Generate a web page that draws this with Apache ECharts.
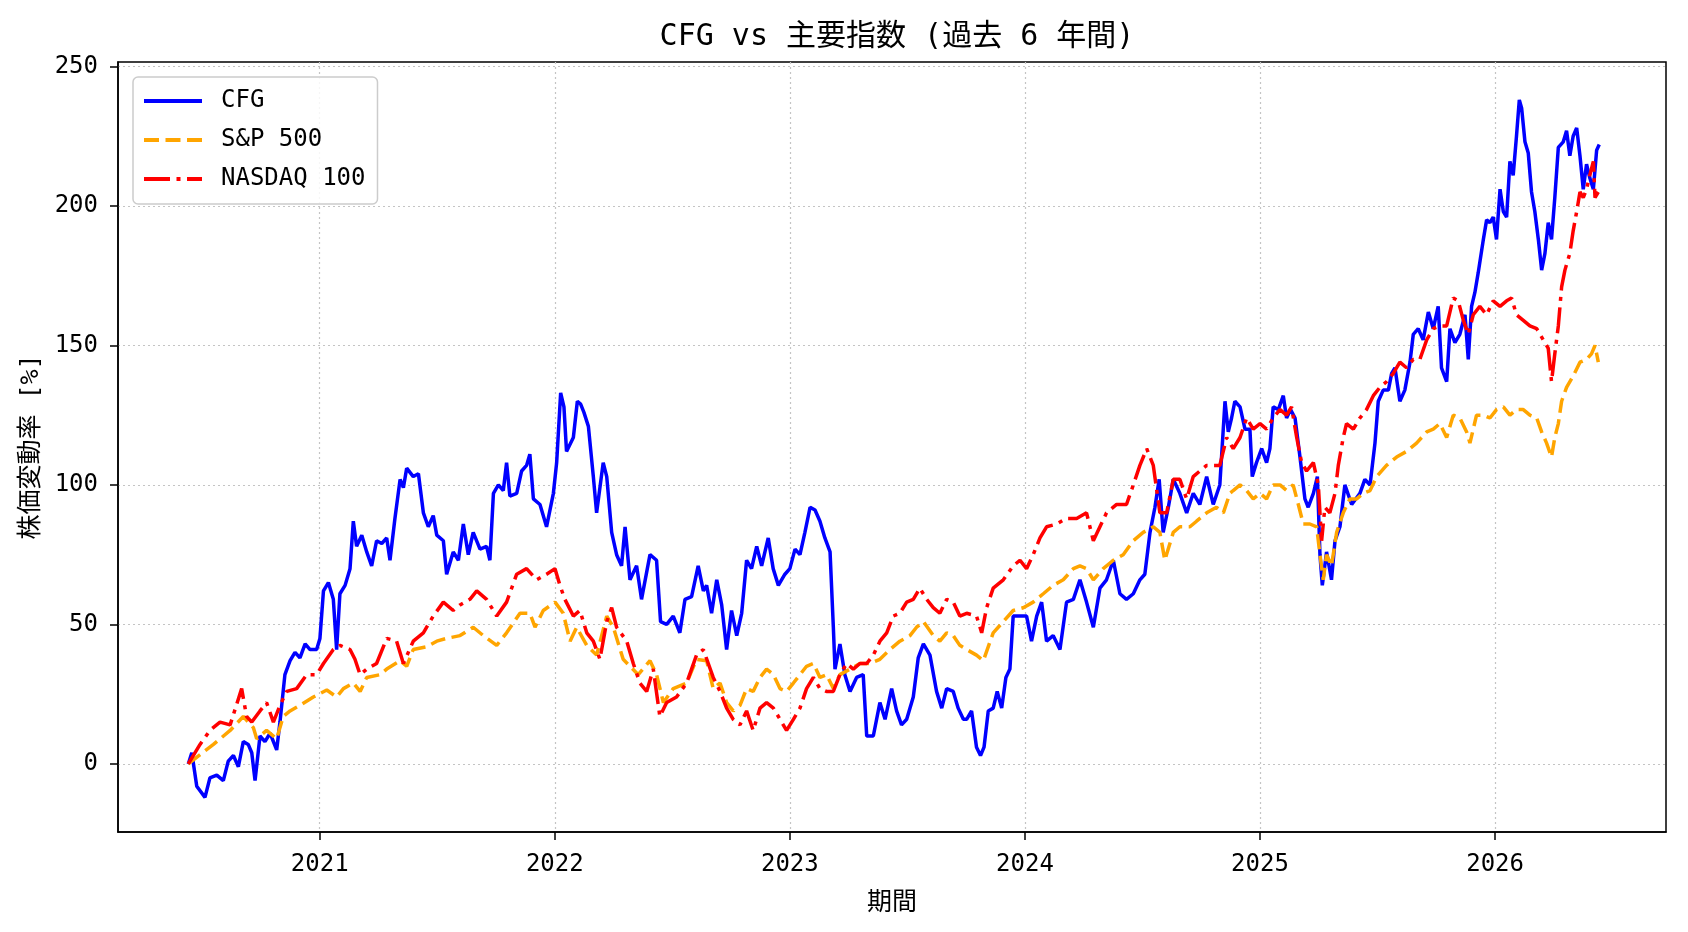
<!DOCTYPE html>
<html>
<head>
<meta charset="utf-8">
<title>CFG vs 主要指数</title>
<script src="https://cdn.jsdelivr.net/npm/echarts@6/dist/echarts.min.js"></script>
<style>
html, body { margin: 0; padding: 0; background: #fff; }
#main { width: 1688px; height: 932px; }
</style>
</head>
<body>
<div id="main"></div>
<script>
// 時点は小数年 (例: 2021.5 = 2021年7月初め) で読み取り

// CFG
const cfgYears = [
  2020.441, 2020.456, 2020.477, 2020.512, 2020.533, 2020.562, 2020.590, 2020.611, 2020.633, 2020.654,
  2020.675, 2020.696, 2020.711, 2020.725, 2020.746, 2020.767, 2020.789, 2020.817, 2020.831, 2020.852,
  2020.874, 2020.895, 2020.916, 2020.938, 2020.959, 2020.987, 2021.001, 2021.016, 2021.037, 2021.058,
  2021.072, 2021.086, 2021.108, 2021.129, 2021.143, 2021.157, 2021.179, 2021.200, 2021.221, 2021.242,
  2021.264, 2021.285, 2021.299, 2021.320, 2021.342, 2021.356, 2021.370, 2021.398, 2021.420, 2021.441,
  2021.462, 2021.483, 2021.498, 2021.526,
  2021.540, 2021.568, 2021.590, 2021.611, 2021.632, 2021.653, 2021.682, 2021.710, 2021.724, 2021.739,
  2021.760, 2021.781, 2021.795, 2021.809, 2021.838, 2021.859, 2021.880, 2021.894, 2021.909, 2021.937,
  2021.965, 2021.994, 2022.008, 2022.025, 2022.039, 2022.050, 2022.079, 2022.096, 2022.110, 2022.124,
  2022.143, 2022.164, 2022.178, 2022.206, 2022.221, 2022.242, 2022.263, 2022.284, 2022.299, 2022.320,
  2022.348, 2022.369, 2022.405, 2022.433, 2022.450, 2022.476, 2022.504, 2022.532, 2022.554, 2022.582,
  2022.610, 2022.632,
  2022.646, 2022.667, 2022.689, 2022.710, 2022.731, 2022.752, 2022.774, 2022.795, 2022.816, 2022.837,
  2022.859, 2022.880, 2022.908, 2022.929, 2022.951, 2022.979, 2023.000, 2023.022, 2023.043, 2023.064,
  2023.086, 2023.107, 2023.128, 2023.149, 2023.171, 2023.185, 2023.192, 2023.213, 2023.234, 2023.256,
  2023.284, 2023.312, 2023.327, 2023.355, 2023.383, 2023.405, 2023.433, 2023.454, 2023.475, 2023.497,
  2023.525, 2023.546, 2023.568, 2023.596, 2023.624, 2023.646, 2023.667, 2023.695, 2023.716, 2023.738,
  2023.752, 2023.773, 2023.794, 2023.811, 2023.826, 2023.844, 2023.865, 2023.882, 2023.901, 2023.919,
  2023.936, 2023.950, 2023.979, 2024.007, 2024.028, 2024.050, 2024.071, 2024.092, 2024.120, 2024.149,
  2024.177, 2024.206, 2024.234, 2024.262, 2024.291, 2024.319, 2024.347, 2024.376, 2024.404, 2024.432,
  2024.461, 2024.489, 2024.510, 2024.532, 2024.553, 2024.571, 2024.588, 2024.610, 2024.631, 2024.659,
  2024.688, 2024.716, 2024.744, 2024.773, 2024.801, 2024.829, 2024.851,
  2024.865, 2024.879, 2024.893, 2024.915, 2024.936, 2024.957, 2024.967, 2024.985, 2025.007, 2025.028,
  2025.042, 2025.056, 2025.078, 2025.099, 2025.113, 2025.130, 2025.149, 2025.170, 2025.191, 2025.205,
  2025.227, 2025.244, 2025.255, 2025.265, 2025.283, 2025.304, 2025.319, 2025.340, 2025.361, 2025.390,
  2025.425, 2025.446, 2025.468, 2025.489, 2025.503, 2025.524, 2025.546, 2025.560, 2025.574, 2025.595,
  2025.616, 2025.638, 2025.652, 2025.673, 2025.694, 2025.716, 2025.737, 2025.758, 2025.772, 2025.794,
  2025.808, 2025.829, 2025.850, 2025.872, 2025.886, 2025.900, 2025.914, 2025.928, 2025.950, 2025.964,
  2025.978, 2025.992, 2026.006, 2026.021, 2026.035, 2026.049, 2026.063, 2026.077, 2026.091, 2026.103,
  2026.113, 2026.127, 2026.141, 2026.155, 2026.169, 2026.184, 2026.198, 2026.212, 2026.226, 2026.240,
  2026.254, 2026.269, 2026.290, 2026.304, 2026.318, 2026.332, 2026.347, 2026.361, 2026.375, 2026.389,
  2026.403, 2026.418, 2026.432, 2026.443
];
const cfgValues = [
  0, 4, -8, -12, -5, -4, -6, 1, 3, -1,
  8, 7, 4, -6, 10, 8, 11, 5, 15, 32,
  37, 40, 38, 43, 41, 41, 45, 62, 65, 59,
  41, 61, 64, 70, 87, 78, 82, 76, 71, 80,
  79, 81, 73, 88, 102, 99, 106, 103, 104, 90,
  85, 89, 82, 80,
  68, 76, 73, 86, 75, 83, 77, 78, 73, 97,
  100, 98, 108, 96, 97, 105, 107, 111, 95, 93,
  85, 97, 108, 133, 128, 112, 117, 130, 129, 126,
  121, 103, 90, 108, 103, 83, 75, 71, 85, 66,
  71, 59, 75, 73, 51, 50, 53, 47, 59, 60,
  71, 62,
  64, 54, 66, 57, 41, 55, 46, 54, 73, 70,
  78, 71, 81, 70, 64, 68, 70, 77, 75, 83,
  92, 91, 87, 81, 76, 49, 34, 43, 32, 26,
  31, 32, 10, 10, 22, 16, 27, 19, 14, 16,
  24, 38, 43, 39, 26, 20, 27, 26, 20, 16,
  16, 19, 6, 3, 6, 19, 20, 26, 20, 31,
  34, 53, 53, 53, 44, 53, 58, 44, 46, 41,
  58, 59, 66, 58, 49, 63, 66, 73, 61, 59,
  61, 66, 68, 83, 92, 102, 83, 92, 102, 97,
  90, 97, 93, 103, 93, 100, 130,
  119, 124, 130, 128, 120, 120, 103, 108, 113, 108,
  113, 128, 127, 132, 124, 127, 124, 110, 95, 92,
  97, 103, 75, 64, 76, 66, 80, 85, 100, 93,
  97, 102, 100, 115, 130, 134, 134, 140, 142, 130,
  134, 144, 154, 156, 152, 162, 156, 164, 142, 137,
  156, 151, 154, 161, 145, 164, 169, 176, 188, 195,
  194, 196, 188, 206, 198, 196, 216, 211, 225, 238,
  235, 223, 219, 205, 198, 188, 177, 183, 194, 188,
  203, 221, 223, 227, 218, 225, 228, 218, 206, 215,
  210, 206, 220, 222
];

// S&P 500
const spYears = [
  2020.441, 2020.548, 2020.619, 2020.675, 2020.718, 2020.732, 2020.774, 2020.817, 2020.845, 2020.874,
  2020.916, 2020.973, 2021.030, 2021.072, 2021.101, 2021.143, 2021.172, 2021.200, 2021.257, 2021.285,
  2021.342, 2021.370, 2021.398, 2021.455, 2021.498, 2021.540,
  2021.597, 2021.653, 2021.696, 2021.753, 2021.795, 2021.852, 2021.894, 2021.916, 2021.951, 2022.001,
  2022.036, 2022.065, 2022.093, 2022.136, 2022.178, 2022.221, 2022.249, 2022.291, 2022.355, 2022.405,
  2022.433, 2022.462, 2022.504, 2022.561, 2022.603,
  2022.646, 2022.674, 2022.703, 2022.731, 2022.759, 2022.788, 2022.816, 2022.844, 2022.873, 2022.901,
  2022.930, 2022.958, 2022.986, 2023.015, 2023.043, 2023.071, 2023.100, 2023.128, 2023.156, 2023.185,
  2023.213, 2023.256, 2023.298, 2023.341, 2023.383, 2023.426, 2023.468, 2023.511, 2023.539, 2023.568,
  2023.610, 2023.638, 2023.667, 2023.695, 2023.723, 2023.752,
  2023.794, 2023.823, 2023.865, 2023.908, 2023.950, 2023.993, 2024.035, 2024.078, 2024.120, 2024.163,
  2024.206, 2024.234, 2024.262, 2024.291, 2024.333, 2024.376, 2024.418, 2024.461, 2024.503, 2024.546,
  2024.574, 2024.595, 2024.631, 2024.659, 2024.702, 2024.730, 2024.773, 2024.815, 2024.844, 2024.872,
  2024.886, 2024.915, 2024.943, 2024.971, 2025.000, 2025.028, 2025.056, 2025.085, 2025.113, 2025.141,
  2025.163, 2025.184, 2025.212, 2025.241, 2025.255, 2025.269, 2025.283, 2025.304, 2025.326, 2025.354,
  2025.382, 2025.411, 2025.439, 2025.468, 2025.496, 2025.538, 2025.581, 2025.623, 2025.666, 2025.709,
  2025.737, 2025.765, 2025.794, 2025.822, 2025.850, 2025.879, 2025.893, 2025.921, 2025.950, 2025.978,
  2026.006, 2026.035, 2026.063, 2026.091, 2026.120, 2026.148, 2026.177, 2026.198, 2026.219, 2026.240,
  2026.254, 2026.269, 2026.283, 2026.304, 2026.332, 2026.361, 2026.389, 2026.410, 2026.425, 2026.439
];
const spValues = [
  0, 7, 12, 17, 13, 9, 12, 9, 17, 19,
  21, 24, 26.5, 24, 27, 29, 26, 31, 32, 34,
  37, 35, 41, 42, 44, 45,
  46, 49, 46, 42.5, 47, 54, 54, 49, 55, 58,
  54, 44, 49, 42.5, 39, 53, 49, 37.5, 32, 37,
  32, 22, 27, 29, 37.5,
  37, 27, 29, 22, 19, 21, 27, 26, 31, 34,
  32, 27, 26, 29, 32, 35, 36, 31, 32, 27,
  32, 34, 36, 36, 37.5, 41, 44, 46, 49, 51,
  46, 44, 47, 46, 42.5, 41,
  39, 37, 47, 51, 55, 56, 58, 61, 64, 66,
  70, 71, 70, 66, 70, 73, 75, 80, 83, 85,
  83, 73, 83, 85, 85, 87, 90, 92, 90, 97,
  98, 100, 98, 95, 97, 95, 100, 100, 98, 100,
  93, 86, 86, 85, 75, 66, 75, 71, 83, 90,
  95, 95, 97, 98, 103, 107, 110, 112, 115, 119,
  120, 122, 117, 125, 124, 119, 115, 125, 125, 124,
  127, 128, 125, 127, 127, 125, 124, 119, 115, 110,
  117, 122, 130, 135, 139, 144, 145, 147, 150, 144
];

// NASDAQ 100
const ndxYears = [
  2020.441, 2020.491, 2020.533, 2020.576, 2020.619, 2020.668, 2020.689, 2020.711, 2020.746, 2020.774,
  2020.803, 2020.831, 2020.860, 2020.902, 2020.945, 2020.987, 2021.016, 2021.058, 2021.086, 2021.129,
  2021.150, 2021.172, 2021.200, 2021.242, 2021.285, 2021.327, 2021.356, 2021.398, 2021.441, 2021.483,
  2021.526,
  2021.568, 2021.597, 2021.639, 2021.668, 2021.710, 2021.753, 2021.795, 2021.838, 2021.880, 2021.923,
  2021.965, 2022.001, 2022.022, 2022.043, 2022.079, 2022.107, 2022.136, 2022.164, 2022.192, 2022.221,
  2022.242, 2022.263, 2022.306, 2022.334, 2022.362, 2022.391, 2022.419, 2022.447, 2022.476, 2022.518,
  2022.561, 2022.603, 2022.632,
  2022.674, 2022.703, 2022.731, 2022.759, 2022.788, 2022.816, 2022.844, 2022.873, 2022.901, 2022.930,
  2022.958, 2022.986, 2023.015, 2023.043, 2023.071, 2023.100, 2023.128, 2023.156, 2023.185, 2023.213,
  2023.242, 2023.270, 2023.298, 2023.327, 2023.355, 2023.383, 2023.412, 2023.440, 2023.468, 2023.497,
  2023.525, 2023.553, 2023.582, 2023.610, 2023.638, 2023.667, 2023.695, 2023.723, 2023.752,
  2023.794, 2023.816, 2023.837, 2023.865, 2023.908, 2023.950, 2023.979, 2024.007, 2024.035, 2024.064,
  2024.092, 2024.135, 2024.177, 2024.220, 2024.262, 2024.291, 2024.319, 2024.347, 2024.390, 2024.432,
  2024.461, 2024.489, 2024.518, 2024.546, 2024.574, 2024.603, 2024.631, 2024.659, 2024.688, 2024.716,
  2024.744, 2024.773, 2024.801, 2024.829, 2024.858,
  2024.886, 2024.915, 2024.943, 2024.971, 2025.000, 2025.028, 2025.056, 2025.085, 2025.113, 2025.134,
  2025.156, 2025.177, 2025.198, 2025.227, 2025.248, 2025.262, 2025.276, 2025.297, 2025.319, 2025.333,
  2025.354, 2025.368, 2025.397, 2025.425, 2025.453, 2025.482, 2025.510, 2025.538, 2025.567, 2025.595,
  2025.623, 2025.652, 2025.680, 2025.709, 2025.737, 2025.765, 2025.794, 2025.822, 2025.843, 2025.865,
  2025.886, 2025.907, 2025.935, 2025.964,
  2025.992, 2026.021, 2026.049, 2026.070, 2026.091, 2026.120, 2026.148, 2026.177, 2026.205, 2026.226,
  2026.240, 2026.254, 2026.269, 2026.283, 2026.297, 2026.318, 2026.332, 2026.347, 2026.361, 2026.375,
  2026.389, 2026.403, 2026.418, 2026.425, 2026.439
];
const ndxValues = [
  0, 7, 12, 15, 14, 27, 17, 15, 19, 22,
  15, 21, 26, 27, 32, 32, 36, 41, 42.5, 41,
  37.5, 32, 34, 36, 45, 44, 36, 44, 47, 53,
  58,
  55, 57, 59, 62, 59, 53, 58, 68, 70, 66,
  68, 70, 64, 59, 53, 55, 47, 44, 37.5, 51,
  56, 49, 44, 36, 29, 26, 34, 17, 22, 24,
  29, 39, 41,
  31, 26, 20, 16, 14, 19, 12, 20, 22, 20,
  16, 12, 16, 20, 27, 31, 27, 26, 26, 32,
  36, 34, 36, 36, 39, 44, 47, 53, 54, 58,
  59, 63, 59, 56, 54, 59, 58, 53, 54,
  53, 47, 56, 63, 66, 71, 73, 70, 75, 81,
  85, 86, 88, 88, 90, 80, 85, 90, 93, 93,
  100, 107, 113, 107, 90, 90, 102, 102, 95, 103,
  105, 107, 107, 107, 117,
  113, 117, 124, 120, 122, 120, 124, 127, 125, 128,
  117, 108, 105, 108, 100, 80, 92, 90, 97, 107,
  117, 122, 120, 124, 127, 132, 135, 137, 140, 144,
  142, 145, 145, 152, 156, 157, 157, 167, 166, 159,
  154, 161, 164, 161,
  166, 164, 166, 167, 161, 159, 157, 156, 152, 149,
  137, 147, 157, 171, 177, 183, 191, 198, 205, 203,
  206, 211, 216, 203, 205
];

// 目盛り
const yearTicks = [2021, 2022, 2023, 2024, 2025, 2026];
const yTicks = [0, 50, 100, 150, 200, 250];

const FONT = "'DejaVu Sans Mono', 'Noto Sans CJK JP', monospace";

const zip = (xs, ys) => xs.map((x, i) => [x, ys[i]]);

let chart = echarts.init(document.getElementById('main'), null, { renderer: 'canvas' });

let option = {
  animation: false,
  backgroundColor: '#fff',
  title: {
    text: 'CFG vs 主要指数 (過去 6 年間)',
    left: 892,
    textAlign: 'center',
    top: 17,
    textStyle: { fontSize: 30, fontWeight: 'normal', fontFamily: FONT, color: '#000' }
  },
  grid: {
    left: 118,
    right: 22,
    top: 62,
    bottom: 100,
    show: true,
    borderColor: '#000',
    borderWidth: 1.5
  },
  legend: {
    orient: 'vertical',
    left: 133,
    top: 77,
    padding: [9, 12, 10, 9],
    itemWidth: 58,
    itemHeight: 14,
    itemGap: 9,
    backgroundColor: 'rgba(255,255,255,0.85)',
    borderColor: '#cccccc',
    borderWidth: 1.5,
    borderRadius: 5,
    itemStyle: { opacity: 0 },
    lineStyle: { width: 4 },
    textStyle: { fontSize: 24, fontFamily: FONT, color: '#000', padding: [0, 0, 0, 14], lineHeight: 30 },
    data: ['CFG', 'S&P 500', 'NASDAQ 100']
  },
  xAxis: {
    type: 'value',
    min: 2020.142,
    max: 2026.727,
    splitNumber: 6,
    name: '期間',
    nameLocation: 'middle',
    nameGap: 59,
    nameTextStyle: { fontSize: 25, fontFamily: FONT, color: '#000' },
    axisLine: { onZero: false, lineStyle: { color: '#000', width: 1.5 } },
    axisTick: { show: true, length: 8, customValues: yearTicks, lineStyle: { color: '#000', width: 1.5 } },
    axisLabel: {
      color: '#000', fontSize: 24, fontFamily: FONT, margin: 21, customValues: yearTicks,
      formatter: (v) => String(Math.round(v))
    },
    splitLine: { show: true, lineStyle: { color: '#c4c4c4', width: 1.2, type: [2, 3] } }
  },
  yAxis: {
    type: 'value',
    min: -24.4,
    max: 251.6,
    splitNumber: 5,
    name: '株価変動率 [%]',
    nameLocation: 'middle',
    nameGap: 73,
    nameTextStyle: { fontSize: 25, fontFamily: FONT, color: '#000' },
    axisLine: { show: true, onZero: false, lineStyle: { color: '#000', width: 1.5 } },
    axisTick: { show: true, length: 8, customValues: yTicks, lineStyle: { color: '#000', width: 1.5 } },
    axisLabel: { color: '#000', fontSize: 24, fontFamily: FONT, margin: 20, customValues: yTicks },
    splitLine: { show: true, lineStyle: { color: '#c4c4c4', width: 1.2, type: [2, 3] } }
  },
  series: [
    {
      name: 'CFG',
      type: 'line',
      data: zip(cfgYears, cfgValues),
      symbol: 'none',
      z: 2,
      lineStyle: { color: '#0000ff', width: 3.5 },
      itemStyle: { color: '#0000ff' }
    },
    {
      name: 'S&P 500',
      type: 'line',
      data: zip(spYears, spValues),
      symbol: 'none',
      z: 3,
      lineStyle: { color: '#ffa500', width: 3.5, type: [15, 6.5] },
      itemStyle: { color: '#ffa500' }
    },
    {
      name: 'NASDAQ 100',
      type: 'line',
      data: zip(ndxYears, ndxValues),
      symbol: 'none',
      z: 4,
      lineStyle: { color: '#ff0000', width: 3.5, type: [26, 6.5, 4, 6.5] },
      itemStyle: { color: '#ff0000' }
    }
  ]
};

chart.setOption(option);
</script>
</body>
</html>
